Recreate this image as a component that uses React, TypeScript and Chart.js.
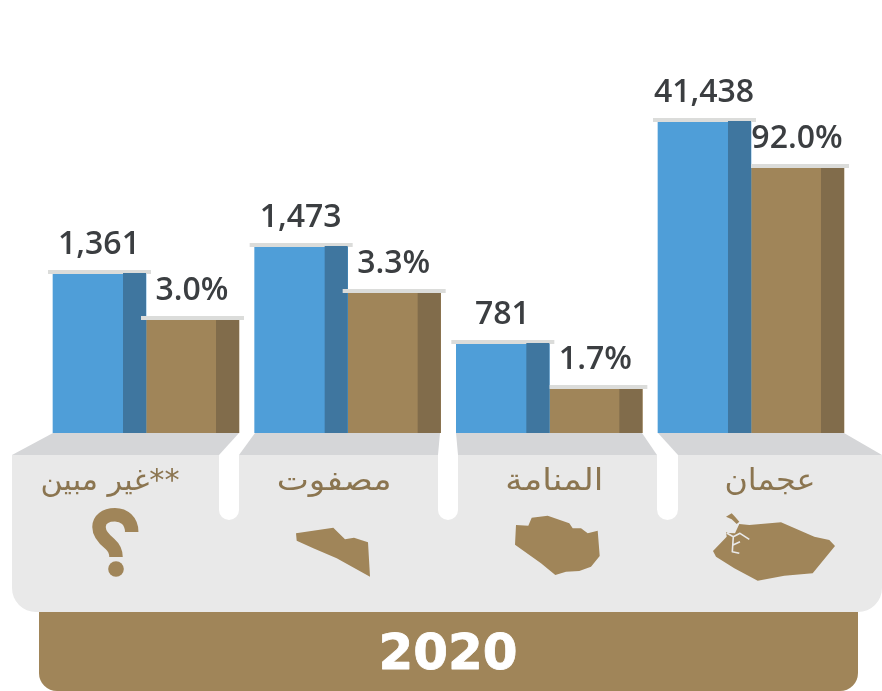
import { useEffect, useRef } from "react";
import { Chart, registerables } from "chart.js";

Chart.register(...registerables);

// Labels in the picture (the picture's bars are not proportional to these)
const categories = ["**غير مبين", "مصفوت", "المنامة", "عجمان"];
const countLabels = ["1,361", "1,473", "781", "41,438"];
const shareLabels = ["3.0%", "3.3%", "1.7%", "92.0%"];
// Bar heights
const countHeights = [159, 186, 89, 311];
const shareHeights = [113, 140, 44, 265];
const yearLabel = "2020";

const BLUE = "#4f9ed8";
const BLUE_DARK = "#3f769f";
const BROWN = "#a08559";
const BROWN_DARK = "#816c4b";
const CAP = "#dbdcda";
const PANEL = "#e9e9e9";
const PANEL_TOP = "#d5d6d8";
const TEXT = "#3b3e41";
const LABEL = "#8b7550";
const W = 882;
const H = 691;
const BASE = 433;
const DARK_W = 23;

const labelShift = [-36, -13.5, 5, 19];
const labelWidth = [139, 115, 98, 91];

type P = [number, number];
const poly = (c: CanvasRenderingContext2D, pts: P[], fill: string) => {
  c.beginPath();
  pts.forEach(([x, y], i) => (i ? c.lineTo(x, y) : c.moveTo(x, y)));
  c.closePath();
  c.fillStyle = fill;
  c.fill();
};

const backdrop = {
  id: "backdrop",
  beforeDatasetsDraw(chart: any) {
    const c: CanvasRenderingContext2D = chart.ctx;
    c.save();
    // year band
    c.fillStyle = BROWN;
    c.beginPath();
    c.roundRect(39, 600, 819, 91, [0, 0, 18, 18]);
    c.fill();
    // panel
    c.fillStyle = PANEL;
    c.beginPath();
    c.roundRect(12, 455, 870, 157, [0, 0, 24, 24]);
    c.fill();
    // sloped top
    poly(c, [[53, BASE], [844, BASE], [882, 455], [12, 455]], PANEL_TOP);
    // white gaps
    const gaps: [number, number, number, number][] = [
      [239, 255, 219, 239],
      [440, 456, 438, 458],
      [642, 658, 657, 678],
    ];
    gaps.forEach(([a, b, l, r]) => {
      poly(c, [[a, BASE], [b, BASE], [r, 455], [l, 455]], "#ffffff");
      c.fillStyle = "#ffffff";
      c.beginPath();
      c.roundRect(l, 455, r - l, 65, [0, 0, (r - l) / 2, (r - l) / 2]);
      c.fill();
    });
    // year
    c.fillStyle = "#ffffff";
    c.strokeStyle = "#ffffff";
    c.lineWidth = 0.8;
    c.lineJoin = "round";
    c.font = "700 50px 'DejaVu Sans'";
    c.textAlign = "center";
    c.textBaseline = "alphabetic";
    c.fillText(yearLabel, 448, 668.5);
    c.strokeText(yearLabel, 448, 668.5);

    // category labels
    c.fillStyle = LABEL;
    c.font = "400 30px 'DejaVu Sans'";
    c.direction = "rtl";
    const xs = chart.scales.x;
    categories.forEach((t, i) => {
      const sx = labelWidth[i] / c.measureText(t).width;
      c.save();
      c.translate(xs.getPixelForValue(i) + labelShift[i], 490);
      c.scale(sx, 1);
      c.fillText(t, 0, 0);
      c.restore();
    });
    c.direction = "ltr";

    // question mark icon
    c.strokeStyle = BROWN;
    c.lineWidth = 13.5;
    c.lineCap = "butt";
    c.beginPath();
    c.moveTo(131.7, 532);
    c.bezierCurveTo(131.7, 521, 124, 514.7, 115, 514.7);
    c.bezierCurveTo(105, 514.7, 99, 520, 99, 527);
    c.bezierCurveTo(99, 534, 105, 540, 110, 544);
    c.bezierCurveTo(114, 547.5, 116, 551, 116, 557);
    c.stroke();
    c.fillStyle = BROWN;
    c.beginPath();
    c.arc(116, 569, 7.8, 0, Math.PI * 2);
    c.fill();

    poly(c, [[296, 533.3], [333.3, 527.7], [345, 539.3], [354, 537.7], [368, 542.3], [370, 576.7], [336.7, 558.3], [313.3, 548.3], [296.7, 540.7]], BROWN);
    poly(c, [[516, 525], [528.3, 525.7], [531.7, 517.7], [547.7, 515.7], [569.3, 523.3], [572.7, 528.3], [581, 528.3], [587.7, 533.3], [597.7, 530.7], [599.7, 556], [591, 566.7], [579.3, 571], [566, 571.7], [555.3, 575], [541, 563.3], [515, 544.7]], BROWN);
    poly(c, [[713, 551], [726.7, 536.7], [726, 532], [728, 533], [735, 533.3], [739.3, 524], [749.3, 525], [781, 522.3], [814.3, 536.7], [829.3, 540], [835, 546], [812.7, 573.3], [784.3, 575.7], [757.7, 580.7], [734.3, 568.3], [716, 556.7]], BROWN);
    poly(c, [[726, 516.7], [731.7, 513.3], [735, 516.7], [739.3, 521.7], [736.7, 524], [731.7, 519.3]], BROWN);
    c.strokeStyle = PANEL;
    c.lineWidth = 1.6;
    c.beginPath();
    c.moveTo(726.7, 533);
    c.lineTo(733.3, 536.7);
    c.lineTo(740, 533.3);
    c.lineTo(749.3, 539.3);
    c.moveTo(733.3, 536.7);
    c.lineTo(732.3, 551.7);
    c.lineTo(739.3, 553.3);
    c.moveTo(733, 545);
    c.lineTo(740, 541.7);
    c.stroke();
    c.restore();
  },
};

const barDecor = {
  id: "barDecor",
  afterDatasetsDraw(chart: any) {
    const c: CanvasRenderingContext2D = chart.ctx;
    const blue = chart.getDatasetMeta(0).data;
    const brown = chart.getDatasetMeta(1).data;
    const cap = (el: any, clipLeft: boolean) => {
      const left = el.x - el.width / 2 - 5;
      const right = el.x + el.width / 2 + 5;
      c.fillStyle = CAP;
      const l = clipLeft ? el.x - el.width / 2 : left;
      c.fillRect(l, el.y - 4, right - l, 4);
    };
    const side = (el: any, col: string, rise: number) => {
      const right = el.x + el.width / 2;
      c.fillStyle = col;
      c.fillRect(right - DARK_W, el.y - rise, DARK_W, BASE - el.y + rise);
    };
    const value = (el: any, t: string) => {
      c.fillStyle = TEXT;
      c.font = "600 32px 'Open Sans'";
      c.textAlign = "center";
      c.textBaseline = "alphabetic";
      c.fillText(t, el.x - 0.5, el.y - 20);
    };
    c.save();
    brown.forEach((el: any, i: number) => {
      if (i >= 2) {
        cap(el, true);
      }
    });
    blue.forEach((el: any, i: number) => {
      cap(el, false);
      side(el, BLUE_DARK, 1);
      value(el, countLabels[i]);
    });
    brown.forEach((el: any, i: number) => {
      if (i < 2) {
        cap(el, false);
      }
      side(el, BROWN_DARK, 0);
      value(el, shareLabels[i]);
    });
    c.restore();
  },
};

export default function App() {
  const ref = useRef<HTMLCanvasElement>(null);
  useEffect(() => {
    const chart = new Chart(ref.current!, {
      type: "bar",
      data: {
        labels: categories,
        datasets: [
          { data: countHeights, backgroundColor: BLUE, barThickness: 93 },
          { data: shareHeights, backgroundColor: BROWN, barThickness: 93 },
        ],
      },
      options: {
        animation: false,
        responsive: false,
        layout: { padding: { left: 45.17, right: 30.17, top: 0, bottom: H - BASE } },
        plugins: { legend: { display: false }, tooltip: { enabled: false } },
        scales: {
          x: { display: false, grid: { display: false } },
          y: { display: false, min: 0, max: BASE, grid: { display: false } },
        },
      },
      plugins: [backdrop, barDecor],
    } as any);
    return () => chart.destroy();
  }, []);
  return (
    <div style={{ position: "absolute", left: 0, top: 0, width: W, height: H, background: "#fff", overflow: "hidden" }}>
      <canvas ref={ref} width={W} height={H} style={{ display: "block" }} />
    </div>
  );
}
